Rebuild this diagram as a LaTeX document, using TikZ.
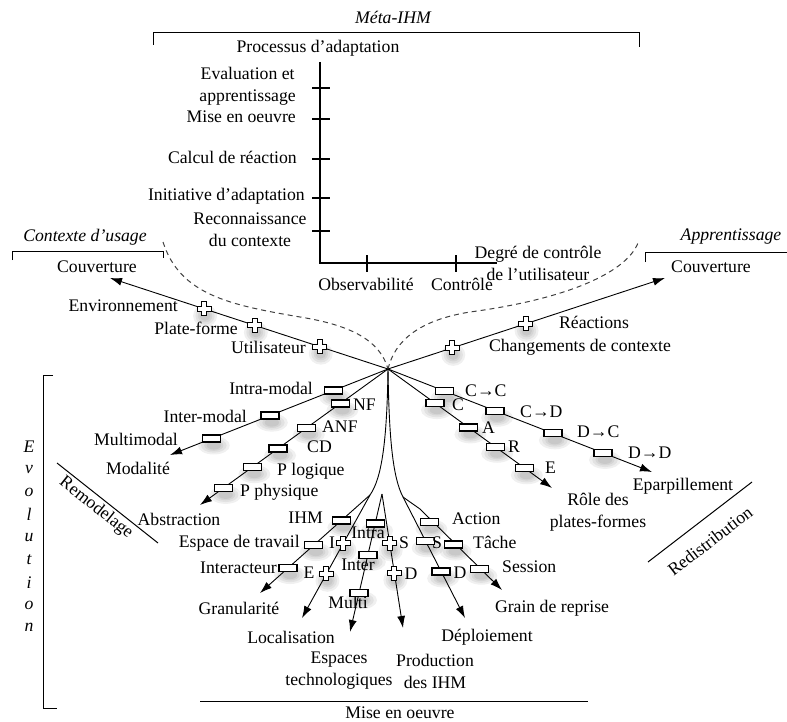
\documentclass[tikz,border=0pt]{standalone}
\usepackage{fontspec}
\setmainfont{Liberation Serif}
\usetikzlibrary{arrows.meta,calc}
\tikzset{
  txt/.style={inner sep=0pt, font=\fontsize{17.7}{22}\selectfont},
  itxt/.style={inner sep=0pt, font=\fontsize{17.7}{22}\selectfont\itshape},
  conn/.style={line width=0.9pt},
  arr/.style={line width=0.9pt, -{Latex[length=12pt,width=8pt]}},
  dashcurve/.style={line width=1pt, dash pattern=on 5pt off 4pt, black!75},
  brk/.style={line width=1pt},
  axisline/.style={line width=1.1pt},
  shadowring/.style={fill=black, fill opacity=0.06},
  rectmark/.style={draw, fill=white, line width=1.3pt, minimum width=18pt, minimum height=7pt, inner sep=0pt},
  plusmark/.pic={\path[draw, fill=white, line width=1.1pt]
     (-2.5,-7)--(2.5,-7)--(2.5,-2.5)--(7,-2.5)--(7,2.5)--(2.5,2.5)--(2.5,7)--(-2.5,7)--(-2.5,2.5)--(-7,2.5)--(-7,-2.5)--(-2.5,-2.5)--cycle;}
}
\newcommand\rmk[3]{% line start, point, line end
  \coordinate (mk) at ($(#1)!(#2)!(#3)$);
  \foreach \s in {1,0.8,0.6,0.45} \fill[shadowring] ([shift={(2,7)}]mk) ellipse ({16*\s} and {9*\s});
  \node[rectmark] at (mk) {};}
\newcommand\pmk[3]{%
  \coordinate (mk) at ($(#1)!(#2)!(#3)$);
  \foreach \s in {1,0.8,0.6,0.45} \fill[shadowring] ([shift={(1,7)}]mk) ellipse ({12*\s} and {11*\s});
  \pic at (mk) {plusmark};}
\begin{document}
\begin{tikzpicture}[x=1pt,y=-1pt]
\useasboundingbox (0,0) rectangle (787,722);

% ---------- Meta-IHM ----------
\node[itxt] (meta) at (393,17) {Méta-IHM};
\draw[brk] (153,45) -- (153,33) -- (639,33) -- (639,47);
\node[txt] (proc) at (318,48) {Processus d'adaptation};
\coordinate (O) at (320,263);
\coordinate (Ytop) at (320,62);
\coordinate (Xend) at (497,263);
\draw[axisline] (Ytop) -- (O) -- (Xend);
\foreach \y in {88,119,159,198,231} \draw[axisline] (312,\y) -- (330,\y);
\foreach \x in {367,456} \draw[axisline] (\x,255) -- (\x,272);
\node[txt, align=center, anchor=east] (eval) at (296,86) {Evaluation et\\apprentissage};
\node[txt, anchor=east] (mise) at (296,117) {Mise en oeuvre};
\node[txt, anchor=east] (calc) at (297,157) {Calcul de réaction};
\node[txt, anchor=east] (init) at (305,196) {Initiative d'adaptation};
\node[txt, align=center] (reco) at (250,230) {Reconnaissance\\du contexte};
\node[txt] (obs) at (366,284) {Observabilité};
\node[txt] (ctrl) at (462,284) {Contrôle};
\node[txt, align=center] (degre) at (538,263) {Degré de contrôle\\de l'utilisateur};

% ---------- hub ----------
\coordinate (H) at (388,369);

% ---------- Contexte d'usage ----------
\node[itxt] (ctxu) at (85,237) {Contexte d'usage};
\draw[brk] (12,260) -- (12,251) -- (163,251) -- (163,258);
\node[txt] (couvL) at (97,267) {Couverture};
\coordinate (TcovL) at (110,278);
\draw[arr] (H) -- (TcovL);
\foreach \px/\py in {205/306,255/325,320/346} {\pmk{H}{\px,\py}{TcovL}}
\node[txt, anchor=east] (env) at (178,306) {Environnement};
\node[txt, anchor=east] (plat) at (238,328) {Plate-forme};
\node[txt, anchor=east] (util) at (306,347) {Utilisateur};
\coordinate (dL) at (163,242);
\draw[dashcurve] (dL) .. controls (180,295) and (230,305) .. (300,317) .. controls (350,325) and (380,340) .. (H);

% ---------- Apprentissage ----------
\node[itxt] (appr) at (731,237) {Apprentissage};
\draw[brk] (645,262) -- (645,252) -- (787,252);
\node[txt] (couvR) at (711,267) {Couverture};
\coordinate (TcovR) at (665,278);
\draw[arr] (H) -- (TcovR);
\foreach \px/\py in {452/347,525/322} {\pmk{H}{\px,\py}{TcovR}}
\node[txt] (reac) at (594,322) {Réactions};
\node[txt] (chg) at (580,347) {Changements de contexte};
\coordinate (dR) at (638,243);
\draw[dashcurve] (H) .. controls (395,340) and (420,320) .. (470,312) .. controls (560,300) and (625,275) .. (dR);

% ---------- Modalite ----------
\coordinate (Tmod) at (170,455);
\draw[arr] (H) -- (Tmod);
\foreach \px/\py in {333/390,270/416,212/439} {\rmk{H}{\px,\py}{Tmod}}
\node[txt, anchor=east] (intram) at (313,388) {Intra-modal};
\node[txt, anchor=east] (interm) at (247,416) {Inter-modal};
\node[txt, anchor=east] (multim) at (178,439) {Multimodal};
\node[txt] (modal) at (138,468) {Modalité};

% ---------- Abstraction ----------
\coordinate (Tabs) at (200,505);
\draw[arr] (H) -- (Tabs);
\foreach \px/\py in {340/403,307/428,277/447,253/468,223/487} {\rmk{H}{\px,\py}{Tabs}}
\node[txt, anchor=west] (nf) at (353,405) {NF};
\node[txt, anchor=west] (anf) at (322,427) {ANF};
\node[txt, anchor=west] (cd) at (307,447) {CD};
\node[txt, anchor=west] (plog) at (277,471) {P logique};
\node[txt, anchor=west] (pphy) at (240,492) {P physique};
\node[txt] (abs) at (179,519) {Abstraction};

% ---------- Eparpillement ----------
\coordinate (Tepa) at (652,472);
\draw[arr] (H) -- (Tepa);
\foreach \px/\py in {445/390,495/411,553/433,603/453} {\rmk{H}{\px,\py}{Tepa}}
\node[txt, anchor=west] (cc) at (465,391) {C→C};
\node[txt, anchor=west] (cdd) at (520,412) {C→D};
\node[txt, anchor=west] (dc) at (577,432) {D→C};
\node[txt, anchor=west] (dd) at (628,453) {D→D};
\node[txt] (epa) at (683,486) {Eparpillement};

% ---------- Role des plates-formes ----------
\coordinate (Trol) at (552,488);
\draw[arr] (H) -- (Trol);
\foreach \px/\py in {435/403,468/428,495/447,525/468} {\rmk{H}{\px,\py}{Trol}}
\node[txt, anchor=west] (rc) at (452,405) {C};
\node[txt, anchor=west] (ra) at (482,428) {A};
\node[txt, anchor=west] (rr) at (508,447) {R};
\node[txt, anchor=west] (re) at (545,468) {E};
\node[txt, align=center] (role) at (598,512) {Rôle des\\plates-formes};

% ---------- Remodelage / Redistribution ----------
\coordinate (rm1) at (57,463); \coordinate (rm2) at (158,543);
\draw[brk] (rm1) -- (rm2);
\node[txt, rotate=-38.4] (remod) at (96,508) {Remodelage};
\coordinate (rd1) at (752,482); \coordinate (rd2) at (648,562);
\draw[brk] (rd1) -- (rd2);
\node[txt, rotate=37.6] (redis) at (710,541) {Redistribution};

% ---------- Evolution ----------
\draw[brk] (53,375) -- (43,375) -- (43,708) -- (57,708);
\foreach \l [count=\i from 0] in {E,v,o,l,u,t,i,o,n}
  \node[itxt] at (29,447+22.6*\i) {\l};

% ---------- Mise en oeuvre ----------
\draw[brk] (200,701) -- (588,701);
\node[txt] (meo) at (400,713) {Mise en oeuvre};

% ---------- lower fan ----------
\node[txt] (intra) at (368,533) {Intra};
\node[txt] (inter) at (358,565) {Inter};
\node[txt] (multi) at (348,602) {Multi};

\coordinate (L0) at (370,495);  \coordinate (Tgra) at (260,593); \coordinate (Tloc) at (302,618);
\coordinate (A1) at (382,494);  \coordinate (Tesp) at (350,632); \coordinate (Tpro) at (403,628);
\coordinate (R0) at (403,497);  \coordinate (Tdep) at (465,618); \coordinate (Tgrn) at (502,590);

\draw[conn] (H) .. controls (387,440) and (382,478) .. (L0);
\draw[conn] (H) .. controls (389,440) and (393,478) .. (R0);
\draw[arr] (L0) -- (Tgra);
\draw[arr] (L0) -- (Tloc);
\draw[arr] (A1) -- (Tesp);
\draw[arr] (A1) -- (Tpro);
\draw[arr] (R0) -- (Tdep);
\draw[arr] (R0) .. controls (410,502) .. (420,509) -- (Tgrn);

\foreach \px/\py in {340/519,312/543,288/568} {\rmk{L0}{\px,\py}{Tgra}}
\foreach \px/\py in {343/543,325/573} {\pmk{L0}{\px,\py}{Tloc}}
\foreach \px/\py in {373/523,368/555,358/593} {\rmk{A1}{\px,\py}{Tesp}}
\foreach \px/\py in {392/543,395/573} {\pmk{A1}{\px,\py}{Tpro}}
\foreach \px/\py in {422/543,440/572} {\rmk{R0}{\px,\py}{Tdep}}
\foreach \px/\py in {432/519,455/543,480/568} {\rmk{R0}{\px,\py}{Tgrn}}

\node[txt, anchor=east] (ihm) at (323,518) {IHM};
\node[txt, anchor=east] (esp) at (300,543) {Espace de travail};
\node[txt, anchor=east] (inte) at (277,568) {Interacteur};
\node[txt] (gran) at (239,608) {Granularité};
\node[txt] (li) at (332,543) {I};
\node[txt] (le) at (309,573) {E};
\node[txt] (loc) at (291,637) {Localisation};
\node[txt] (ps) at (404,543) {S};
\node[txt] (pd) at (411,574) {D};
\node[txt, align=center] (espt) at (339,671) {Espaces\\technologiques};
\node[txt, align=center] (prod) at (435,671) {Production\\des IHM};
\node[txt] (ds) at (437,543) {S};
\node[txt] (ddd) at (460,573) {D};
\node[txt] (dep) at (487,637) {Déploiement};
\node[txt, anchor=west] (act) at (452,519) {Action};
\node[txt, anchor=west] (tac) at (473,542) {Tâche};
\node[txt, anchor=west] (ses) at (502,567) {Session};
\node[txt] (grain) at (552,608) {Grain de reprise};
\end{tikzpicture}
\end{document}
